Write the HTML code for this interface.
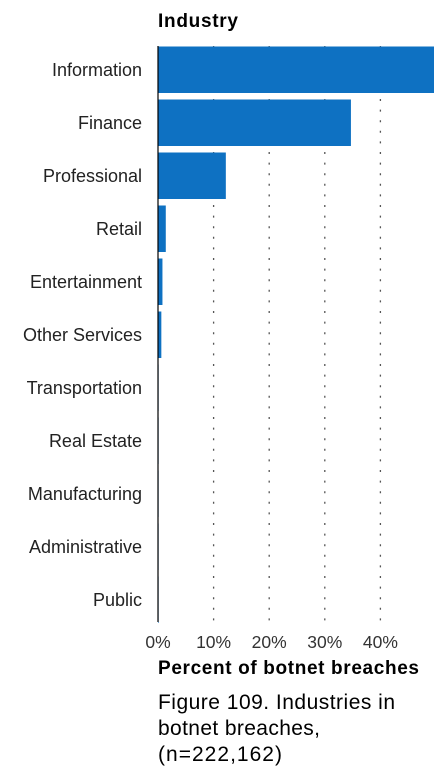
<!DOCTYPE html>
<html><head><meta charset="utf-8"><style>
body{margin:0;background:#fff;width:447px;height:780px;overflow:hidden;font-family:"Liberation Sans",sans-serif;}
svg{display:block}
</style></head><body>
<svg id="c" width="447" height="780">
<text x="158" y="27" font-size="19" font-weight="bold" fill="#000" textLength="80">Industry</text>
<g id="grid"></g><g id="bars"></g><g id="labels"></g><g id="ticks"></g>
<line x1="158" y1="46" x2="158" y2="622" stroke="#000" stroke-width="1.2"/>
<text x="158" y="674" font-size="19" font-weight="bold" fill="#000" textLength="261">Percent of botnet breaches</text>
<text font-size="21" fill="#000"><tspan x="158" y="709" textLength="237">Figure 109. Industries in</tspan><tspan x="158" y="735" textLength="162">botnet breaches,</tspan><tspan x="158" y="761" textLength="124">(n=222,162)</tspan></text>
</svg>
<script>
const categories=["Information","Finance","Professional","Retail","Entertainment","Other Services","Transportation","Real Estate","Manufacturing","Administrative","Public"];
const values=[49.7,34.7,12.2,1.4,0.8,0.6,0.1,0.1,0.1,0.1,0.1];
const tickValues=[0,10,20,30,40];
const tickLabels=["0%","10%","20%","30%","40%"];
const NS="http://www.w3.org/2000/svg";
const x=v=>158+v*5.56;
const y=i=>46.5+i*53;
function mk(t,a,p){const e=document.createElementNS(NS,t);for(const k in a)e.setAttribute(k,a[k]);document.getElementById(p).appendChild(e);return e;}
tickValues.forEach((v,i)=>{
  if(v>0){const g=mk("line",{x1:x(v),x2:x(v),y1:46,y2:622,stroke:"#555","stroke-width":1.3,"stroke-dasharray":"2 8.6"},"grid");
  
  }
  const t=mk("text",{x:x(v),y:648,"font-size":17.5,"text-anchor":"middle",fill:"#333"},"ticks");
  t.textContent=tickLabels[i];
  
  
});
categories.forEach((c,i)=>{
  const b=mk("rect",{x:158,y:y(i),width:Math.max(0.6,Math.min(x(values[i]),434)-158),height:46.5,fill:"#0e71c2"},"bars");
  
  
  const t=mk("text",{x:142,y:y(i)+29.5,"font-size":18,"text-anchor":"end",fill:"#222"},"labels");
  t.textContent=c;
  
  
});
</script>
</body></html>
